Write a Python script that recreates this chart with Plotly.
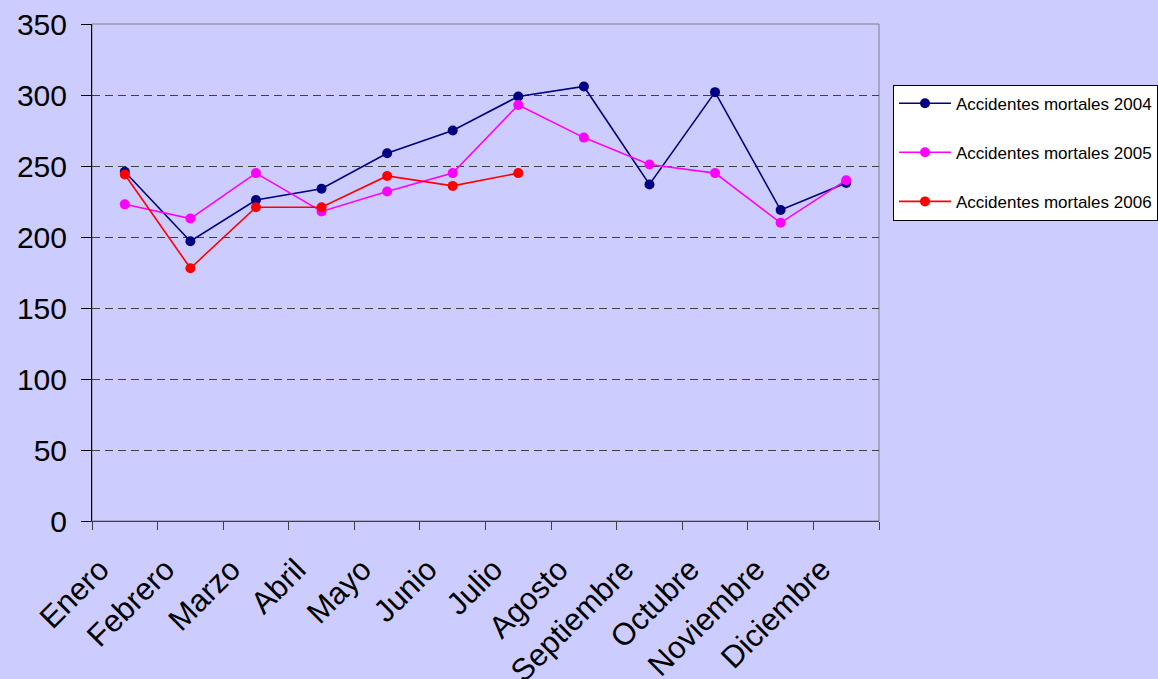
import plotly.graph_objects as go

months = ["Enero", "Febrero", "Marzo", "Abril", "Mayo", "Junio", "Julio",
          "Agosto", "Septiembre", "Octubre", "Noviembre", "Diciembre"]
y2004 = [246, 197, 226, 234, 259, 275, 299, 306, 237, 302, 219, 238]
y2005 = [223, 213, 245, 218, 232, 245, 293, 270, 251, 245, 210, 240]
y2006 = [244, 178, 221, 221, 243, 236, 245]
series_names = ["Accidentes mortales 2004", "Accidentes mortales 2005", "Accidentes mortales 2006"]
y_ticks = [0, 50, 100, 150, 200, 250, 300, 350]

colors = ["#000080", "#FF00FF", "#FF0000"]
FONT = "Liberation Sans, Arial, sans-serif"

fig = go.Figure()
for i, (name, vals) in enumerate(zip(series_names, [y2004, y2005, y2006])):
    fig.add_trace(go.Scatter(
        x=list(range(len(vals))), y=vals, name=name, mode="lines+markers",
        line=dict(color=colors[i], width=1.6),
        marker=dict(color=colors[i], size=10),
        legendgroup=f"g{i}",
    ))

# tick marks at category boundaries, labels attached to the left boundary
tickvals = [i - 0.5 for i in range(len(months) + 1)]
ticktext = months + [""]

fig.update_layout(
    width=1158, height=679,
    margin=dict(l=92, r=279, t=24, b=158, autoexpand=False),
    paper_bgcolor="#CCCCFF", plot_bgcolor="#CCCCFF",
    font=dict(family=FONT, color="#000000"),
    showlegend=True,
    legend=dict(
        x=1.0178, y=0.878, xanchor="left", yanchor="top",
        bgcolor="#FFFFFF", bordercolor="#000000", borderwidth=1,
        font=dict(family=FONT, size=17, color="#000000"),
        tracegroupgap=24,
        itemwidth=52,
    ),
    shapes=[dict(type="rect", xref="paper", yref="paper", x0=0, y0=0, x1=1, y1=1,
                 line=dict(color="#808080", width=1), layer="below")],
)
fig.update_xaxes(
    range=[-0.5, 11.5], tickmode="array", tickvals=tickvals, ticktext=ticktext,
    tickangle=-45, tickfont=dict(size=31, family=FONT),
    ticklabelshift=8, ticklabelstandoff=9, automargin=False,
    showgrid=False, zeroline=False,
    showline=True, linecolor="#404040", linewidth=1,
    ticks="outside", ticklen=8, tickcolor="#404040",
)
fig.update_yaxes(
    range=[0, 350], tickmode="array", tickvals=y_ticks,
    tickfont=dict(size=30, family=FONT),
    ticklabelstandoff=8, automargin=False,
    showgrid=True, gridcolor="#404040", gridwidth=1, griddash="8px,5px",
    zeroline=False,
    showline=True, linecolor="#000000", linewidth=1,
    ticks="outside", ticklen=10, tickcolor="#000000",
)

fig.write_html("out.html", config={"displayModeBar": False},
               post_script="document.body.style.margin='0';document.body.style.overflow='hidden';")
